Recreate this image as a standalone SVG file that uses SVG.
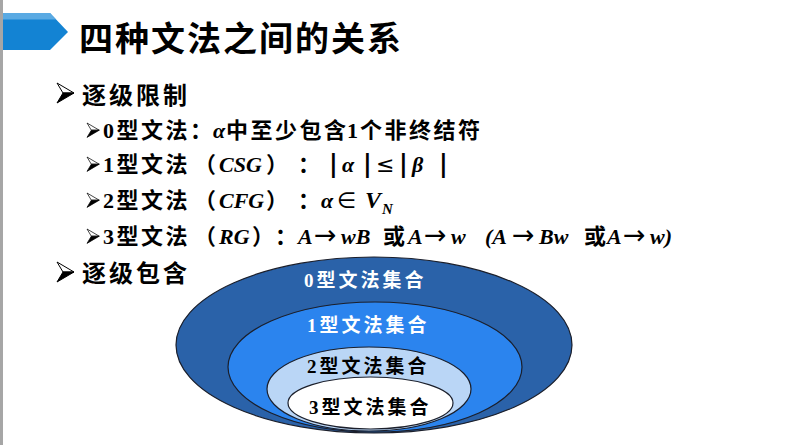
<svg xmlns="http://www.w3.org/2000/svg" xmlns:xlink="http://www.w3.org/1999/xlink" width="800" height="445" viewBox="0 0 800 445">
  <style>
    .title { font-family: "Noto Sans CJK SC", sans-serif; font-weight: 700; font-size: 34px; letter-spacing: 2px; fill: #000; }
    .lvl1 { font-family: "Liberation Serif", "Noto Sans CJK SC", serif; font-weight: 700; font-size: 24px; letter-spacing: 3px; fill: #000; }
    .lvl2 { font-family: "Liberation Serif", "Noto Sans CJK SC", serif; font-weight: 700; font-size: 22px; letter-spacing: 2.5px; fill: #000; }
    .it { font-style: italic; letter-spacing: 0; }
    .sym { font-family: "DejaVu Sans", sans-serif; font-weight: 400; font-style: normal; letter-spacing: 0; }
    .arr { font-family: "DejaVu Sans", sans-serif; font-weight: 400; font-style: normal; font-size: 27px; letter-spacing: 0; }
    .bar { font-family: "DejaVu Sans", sans-serif; font-weight: 700; font-size: 24px; letter-spacing: 0; }
    .sub { font-size: 15px; }
    .set { stroke: #1b1f2b; stroke-width: 1.2; }
    .lbl { font-family: "Liberation Serif", "Noto Sans CJK SC", serif; font-weight: 700; font-size: 19px; letter-spacing: 3px; }
  </style>
  <defs>
    <!-- bullet arrowhead: outlined upper half, solid lower half -->
    <g id="bullet">
      <path d="M0,0 L17,10 L6,10 Z" fill="#fff" stroke="#000" stroke-width="1" stroke-linejoin="miter"/>
      <path d="M6,10 L17,10 L0,20 Z" fill="#000" stroke="#000" stroke-width="1"/>
    </g>
  </defs>

  <rect width="800" height="445" fill="#fff"/>
  <!-- left page rule -->
  <rect x="0" y="0" width="3" height="445" fill="#a6a6a6"/>

  <!-- heading tab and title -->
  <g id="heading">
    <path d="M3,13 H50 L68,32 L50,50 H3 Z" fill="#1383d3"/>
    <path d="M3,13 H50 L56,19.5 H3 Z" fill="#5aaae3"/>
    <text class="title" x="79" y="51">四种文法之间的关系</text>
  </g>

  <!-- bullet list -->
  <g id="list">
    <use xlink:href="#bullet" transform="translate(57,83)"/>
    <text class="lvl1" x="82" y="104">逐级限制</text>

    <use xlink:href="#bullet" transform="translate(87,123) scale(0.72)"/>
    <text class="lvl2" y="138"><tspan x="103">0型文法：</tspan><tspan class="it" x="213">α</tspan><tspan x="226">中至少包含</tspan><tspan x="347">1</tspan><tspan x="360">个非终结符</tspan></text>

    <use xlink:href="#bullet" transform="translate(87,157) scale(0.72)"/>
    <text class="lvl2" y="172"><tspan x="103">1型文法</tspan><tspan x="194">（</tspan><tspan class="it" x="219">CSG</tspan><tspan x="266">）</tspan><tspan x="298">：</tspan><tspan class="bar" x="329">|</tspan><tspan class="it" x="342">α</tspan><tspan class="bar" x="363">|</tspan><tspan class="sym" x="376">≤</tspan><tspan class="bar" x="399">|</tspan><tspan class="it" x="412">β</tspan><tspan class="bar" x="439">|</tspan></text>

    <use xlink:href="#bullet" transform="translate(87,193) scale(0.72)"/>
    <text class="lvl2" y="208"><tspan x="103">2型文法</tspan><tspan x="194">（</tspan><tspan class="it" x="219">CFG</tspan><tspan x="266">）</tspan><tspan x="298">：</tspan><tspan class="it" x="321">α</tspan><tspan class="sym" x="337">∈</tspan><tspan class="it" x="365" font-size="24">V</tspan><tspan class="it sub" x="382" dy="6">N</tspan></text>

    <use xlink:href="#bullet" transform="translate(87,229) scale(0.72)"/>
    <text class="lvl2" y="244"><tspan x="103">3型文法</tspan><tspan x="194">（</tspan><tspan class="it" x="219">RG</tspan><tspan x="252">）</tspan><tspan x="275">：</tspan><tspan class="it" x="298">A</tspan><tspan class="arr" x="314">→</tspan><tspan class="it" x="341">wB</tspan><tspan x="383">或</tspan><tspan class="it" x="408">A</tspan><tspan class="arr" x="424">→</tspan><tspan class="it" x="451">w</tspan><tspan class="it" x="485">(A</tspan><tspan class="arr" x="512">→</tspan><tspan class="it" x="539">Bw</tspan><tspan x="584">或</tspan><tspan class="it" x="607">A</tspan><tspan class="arr" x="623">→</tspan><tspan class="it" x="650">w)</tspan></text>

    <use xlink:href="#bullet" transform="translate(57,262)"/>
    <text class="lvl1" x="82" y="282">逐级包含</text>
  </g>

  <!-- nested grammar sets, outermost first -->
  <g id="set0">
    <ellipse class="set" cx="374" cy="345" rx="198" ry="88" fill="#2a62a9"/>
    <text class="lbl" x="304" y="287" fill="#fff">0型文法集合</text>
  </g>
  <g id="set1">
    <ellipse class="set" cx="375" cy="367" rx="147" ry="65" fill="#2b84ee"/>
    <text class="lbl" x="307" y="332" fill="#fff">1型文法集合</text>
  </g>
  <g id="set2">
    <ellipse class="set" cx="369" cy="389" rx="102" ry="42" fill="#bad6f6"/>
    <text class="lbl" x="307" y="373" fill="#000">2型文法集合</text>
  </g>
  <g id="set3">
    <ellipse class="set" cx="370.5" cy="403" rx="82.5" ry="26" fill="#fff"/>
    <text class="lbl" x="309" y="414" fill="#000">3型文法集合</text>
  </g>
</svg>
